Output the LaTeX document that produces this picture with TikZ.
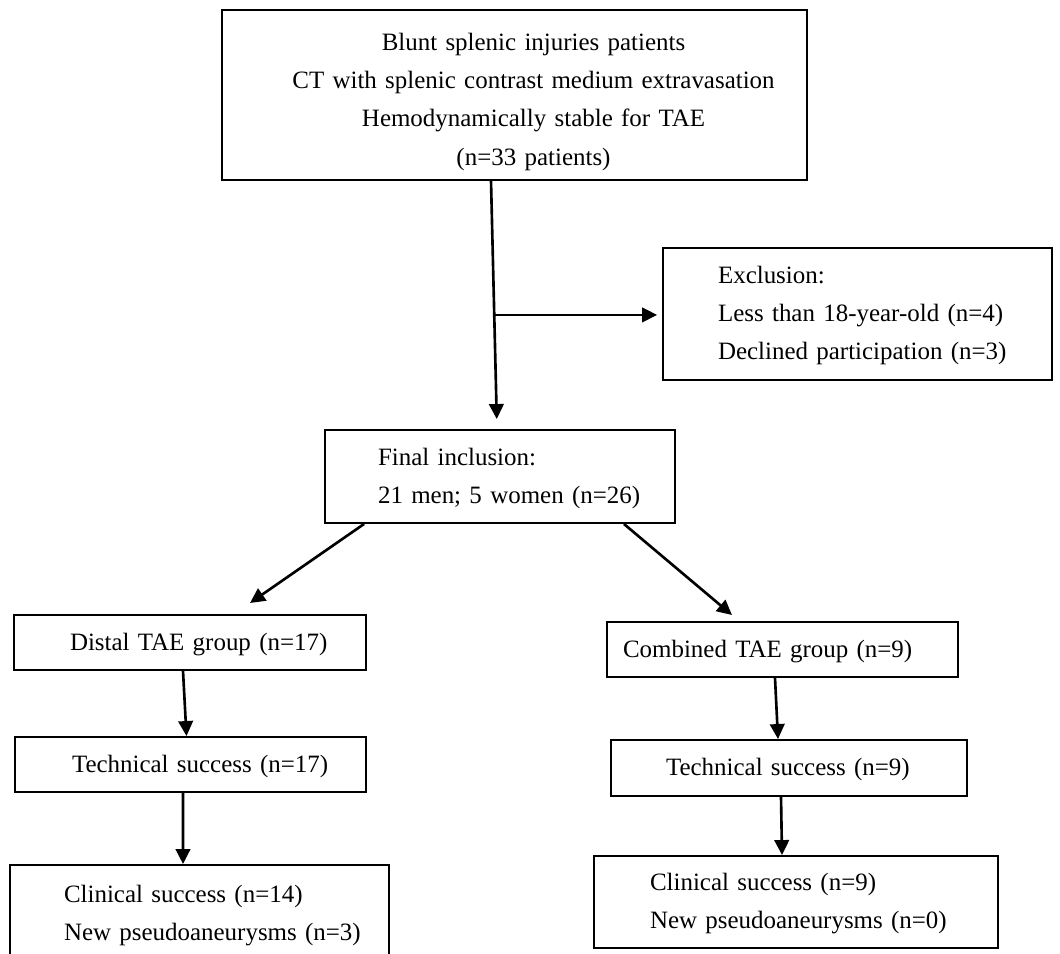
\documentclass[tikz,border=0pt]{standalone}
\usepackage{fontspec}
\setmainfont{Liberation Serif}
\usetikzlibrary{arrows.meta,calc}
\newcommand\indtab[2]{\hspace*{#1}\begin{tabular}{@{}l@{}}#2\end{tabular}}
\begin{document}
\begin{tikzpicture}[x=0.02cm,y=-0.02cm,
  box/.style={draw, line width=1.1pt, rectangle, inner xsep=0pt, inner ysep=0pt, align=left,
    font=\fontsize{14.2pt}{21.8pt}\selectfont},
  arr/.style={line width=1.5pt, -{Triangle[length=0.3cm,width=0.29cm]}}]
\useasboundingbox (0,0) rectangle (1060,953);
\clip (0,0) rectangle (1060,953);
% boxes
\node[box, align=center, text width=11.7cm, minimum height=3.4cm] (top) at (514.5,95)
  {\hspace*{0.76cm}\begin{tabular}{@{}c@{}}\noalign{\vskip 0.2cm}Blunt splenic injuries patients\\CT with splenic contrast medium extravasation\\Hemodynamically stable for TAE\\(n=33 patients)\end{tabular}};
\node[box, text width=7.78cm, minimum height=2.64cm] (excl) at (857.5,314)
  {\indtab{1.1cm}{Exclusion:\\Less than 18-year-old (n=4)\\Declined participation (n=3)}};
\node[box, text width=7.0cm, minimum height=1.86cm] (final) at (500,476.5)
  {\indtab{1.06cm}{Final inclusion:\\21 men; 5 women (n=26)}};
\node[box, text width=7.04cm, minimum height=1.1cm] (distal) at (190,642.5)
  {\indtab{1.12cm}{Distal TAE group (n=17)}};
\node[box, text width=7.02cm, minimum height=1.1cm] (techL) at (190.5,764.5)
  {\indtab{1.14cm}{Technical success (n=17)}};
\node[box, text width=7.58cm, minimum height=1.94cm] (clinL) at (199.5,913.5)
  {\indtab{1.08cm}{Clinical success (n=14)\\New pseudoaneurysms (n=3)}};
\node[box, text width=7.02cm, minimum height=1.1cm] (comb) at (782.5,649.5)
  {\indtab{0.32cm}{Combined TAE group (n=9)}};
\node[box, text width=7.12cm, minimum height=1.12cm] (techR) at (789,768)
  {\indtab{1.1cm}{Technical success (n=9)}};
\node[box, text width=8.08cm, minimum height=1.84cm] (clinR) at (796,902)
  {\indtab{1.12cm}{Clinical success (n=9)\\New pseudoaneurysms (n=0)}};
% connectors
\coordinate (s) at ([xshift=-0.47cm]top.south);
\coordinate (e) at ([xshift=-0.06cm]final.north);
\draw[arr, shorten >=0.2cm] (s) -- (e);
\coordinate (br) at ($(s)!0.54!(e)$);
\draw[arr, shorten >=0.1cm] (br) -- (br -| excl.west);
\coordinate (tl) at (250,603);
\coordinate (tr) at (732,615);
\draw[arr] ([xshift=0.8cm]final.south west) -- (tl);
\draw[arr] ([xshift=-1.04cm]final.south east) -- (tr);
\draw[arr] ([xshift=-0.14cm]distal.south) -- ([xshift=-0.08cm]techL.north);
\draw[arr] ([xshift=-0.15cm]techL.south) -- ([xshift=-0.33cm]clinL.north);
\draw[arr] ([xshift=-0.15cm]comb.south) -- ([xshift=-0.22cm]techR.north);
\draw[arr] ([xshift=-0.16cm]techR.south) -- ([xshift=-0.28cm]clinR.north);
\end{tikzpicture}
\end{document}
